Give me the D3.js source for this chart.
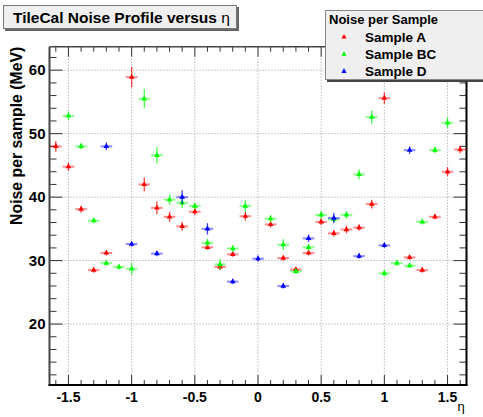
<!DOCTYPE html>
<html><head><meta charset="utf-8">
<script src="https://cdn.jsdelivr.net/npm/d3@7"></script>
<style>
html,body{margin:0;padding:0;background:#fff;}
svg{display:block;font-family:"Liberation Sans",Arial,Helvetica,sans-serif;}
</style></head>
<body><svg id="c" width="483" height="417"></svg>
<script>
// ---- data ----
const etaA = [-1.6,-1.5,-1.4,-1.3,-1.2,-1.0,-0.9,-0.8,-0.7,-0.6,-0.5,-0.4,-0.3,-0.2,-0.1,0.1,0.2,0.3,0.4,0.5,0.6,0.7,0.8,0.9,1.0,1.2,1.3,1.4,1.5,1.6];
const noiseA = [48.0,44.8,38.1,28.5,31.2,58.9,42.0,38.3,36.9,35.4,37.7,32.1,29.0,31.0,37.0,35.7,30.4,28.6,31.2,36.1,34.3,34.9,35.2,38.9,55.6,30.5,28.5,36.9,44.0,47.5];
const errA = [0.85,0.65,0.55,0.4,0.4,1.6,1.1,1.0,0.8,0.7,0.5,0.4,0.5,0.4,0.7,0.5,0.4,0.4,0.4,0.5,0.5,0.6,0.5,0.7,0.9,0.4,0.4,0.4,0.7,0.6];

const etaBC = [-1.5,-1.4,-1.3,-1.2,-1.1,-1.0,-0.9,-0.8,-0.7,-0.6,-0.5,-0.4,-0.3,-0.2,-0.1,0.1,0.2,0.3,0.4,0.5,0.6,0.7,0.8,0.9,1.0,1.1,1.2,1.3,1.4,1.5];
const noiseBC = [52.8,48.0,36.3,29.6,29.0,28.7,55.5,46.6,39.6,39.1,38.6,32.8,29.4,31.9,38.6,36.6,32.5,28.3,32.1,37.2,36.5,37.2,43.6,52.6,28.0,29.6,29.2,36.1,47.4,51.7];
const errBC = [0.7,0.5,0.4,0.4,0.4,0.9,1.5,1.3,0.8,0.8,0.5,0.6,0.85,0.5,0.9,0.6,0.85,0.4,0.5,0.6,0.5,0.6,0.8,1.05,0.5,0.4,0.4,0.4,0.5,0.85];

const etaD = [-1.2,-1.0,-0.8,-0.6,-0.4,-0.2,0.0,0.2,0.4,0.6,0.8,1.0,1.2];
const noiseD = [48.0,32.6,31.1,40.0,35.0,26.7,30.3,26.0,33.5,36.7,30.7,32.4,47.4];
const errD = [0.6,0.4,0.4,1.1,0.9,0.4,0.5,0.4,0.6,0.8,0.4,0.4,0.6];

const xTicks = [-1.5,-1,-0.5,0,0.5,1,1.5];
const xTickLabels = ["-1.5","-1","-0.5","0","0.5","1","1.5"];
const yTicks = [20,30,40,50,60];
const yTickLabels = ["20","30","40","50","60"];
const seriesNames = ["Sample A","Sample BC","Sample D"];
const seriesColors = ["#ff0000","#00ff00","#0000ff"];
const titleText = "TileCal Noise Profile versus η";
const yTitle = "Noise per sample (MeV)";
const legendTitle = "Noise per Sample";

// ---- layout ----
const L = 49.5, R = 466.5, T = 46.7, B = 385;
const svg = d3.select("#c");
const x = d3.scaleLinear().domain([-1.65, 1.65]).range([L, R]);
const y = d3.scaleLinear().domain([10.4, 63.7]).range([B, T]);

// grid
const grid = svg.append("g").attr("stroke","#999").attr("stroke-width",1).attr("stroke-dasharray","1,2");
xTicks.forEach(t => grid.append("line").attr("x1",x(t)).attr("x2",x(t)).attr("y1",T).attr("y2",B));
yTicks.forEach(t => grid.append("line").attr("x1",L).attr("x2",R).attr("y1",y(t)).attr("y2",y(t)));

// axes with ticks (inside)
const xMinor = d3.range(-16,17).map(i=>i/10);
const yMinor = d3.range(12,64,2);
const tk = svg.append("g").attr("stroke","#333").attr("stroke-width",1);
xMinor.forEach(t=>{
  const major = Math.abs(t*2 - Math.round(t*2))<1e-6;
  const len = major?10:5;
  tk.append("line").attr("x1",x(t)).attr("x2",x(t)).attr("y1",B).attr("y2",B-len);
  tk.append("line").attr("x1",x(t)).attr("x2",x(t)).attr("y1",T).attr("y2",T+len);
});
yMinor.forEach(t=>{
  const major = t%10===0;
  const len = major?13:7;
  tk.append("line").attr("x1",L).attr("x2",L+len).attr("y1",y(t)).attr("y2",y(t));
  tk.append("line").attr("x1",R).attr("x2",R-len).attr("y1",y(t)).attr("y2",y(t));
});
// frame
svg.append("line").attr("x1",L).attr("x2",R).attr("y1",T).attr("y2",T).attr("stroke","#444").attr("stroke-width",1.5);
svg.append("line").attr("x1",L).attr("x2",L).attr("y1",T).attr("y2",B).attr("stroke","#444").attr("stroke-width",2);
svg.append("line").attr("x1",L-1).attr("x2",R+1).attr("y1",B).attr("y2",B).attr("stroke","#000").attr("stroke-width",2);
svg.append("line").attr("x1",R).attr("x2",R).attr("y1",T).attr("y2",B).attr("stroke","#000").attr("stroke-width",2);

// tick labels
svg.append("g").selectAll("text").data(xTicks).join("text")
  .attr("x",d=>x(d)).attr("y",B+16.5).attr("text-anchor","middle")
  .attr("font-size",14).attr("font-weight","bold").text((d,i)=>xTickLabels[i]);
svg.append("g").selectAll("text").data(yTicks).join("text")
  .attr("x",L-4).attr("y",d=>y(d)+5).attr("text-anchor","end")
  .attr("font-size",15).attr("font-weight","bold").text((d,i)=>yTickLabels[i]);

// axis titles
svg.append("text").attr("transform",`translate(21.5,${T}) rotate(-90)`).attr("text-anchor","end")
  .attr("font-size",15.8).attr("font-weight","bold").text(yTitle);
svg.append("text").attr("x",461).attr("y",411).attr("text-anchor","middle").attr("font-size",13).text("η");

// data
const tri = d3.symbol().type(d3.symbolTriangle).size(14);
const series = [[etaA,noiseA,errA],[etaBC,noiseBC,errBC],[etaD,noiseD,errD]];
series.forEach(([ex,ny,er],si)=>{
  const g = svg.append("g");
  const c = seriesColors[si];
  const pts = ex.map((e,i)=>({e, v:ny[i], err:er[i]}));
  g.selectAll(".h").data(pts).join("line")
    .attr("x1",d=>x(d.e-0.046)).attr("x2",d=>x(d.e+0.046))
    .attr("y1",d=>y(d.v)).attr("y2",d=>y(d.v))
    .attr("stroke",c).attr("stroke-width",2).attr("stroke-opacity",0.45);
  g.selectAll(".v").data(pts).join("line")
    .attr("x1",d=>x(d.e)).attr("x2",d=>x(d.e))
    .attr("y1",d=>y(d.v-d.err)).attr("y2",d=>y(d.v+d.err))
    .attr("stroke",c).attr("stroke-width",1.3).attr("stroke-opacity",0.75);
  g.selectAll("path").data(pts).join("path")
    .attr("transform",d=>`translate(${x(d.e)},${y(d.v)})`)
    .attr("d",tri).attr("fill",c);
});

// title box
svg.append("rect").attr("x",5).attr("y",7).attr("width",234).attr("height",24).attr("fill","#666");
svg.append("rect").attr("x",3.5).attr("y",5.5).attr("width",233).attr("height",23).attr("fill","#efefef").attr("stroke","#777").attr("stroke-width",1);
svg.append("text").attr("x",13).attr("y",23).attr("font-size",15.5).attr("font-weight","bold").text(titleText.slice(0,-1))
  .append("tspan").attr("font-weight","normal").text(titleText.slice(-1));

// legend
svg.append("rect").attr("x",327).attr("y",12).attr("width",160).attr("height",70).attr("fill","#444");
svg.append("rect").attr("x",325.5).attr("y",10.5).attr("width",160).attr("height",69).attr("fill","#efefef").attr("stroke","#888").attr("stroke-width",1);
svg.append("text").attr("x",329).attr("y",24).attr("font-size",13).attr("font-weight","bold").text(legendTitle);
seriesNames.forEach((n,i)=>{
  const cy = 37 + i*17.2;
  svg.append("path").attr("transform",`translate(344,${cy})`).attr("d",d3.symbol().type(d3.symbolTriangle).size(12)).attr("fill",seriesColors[i]);
  svg.append("text").attr("x",365).attr("y",cy+4.5).attr("font-size",13.5).attr("font-weight","bold").text(n);
});
</script></body></html>
